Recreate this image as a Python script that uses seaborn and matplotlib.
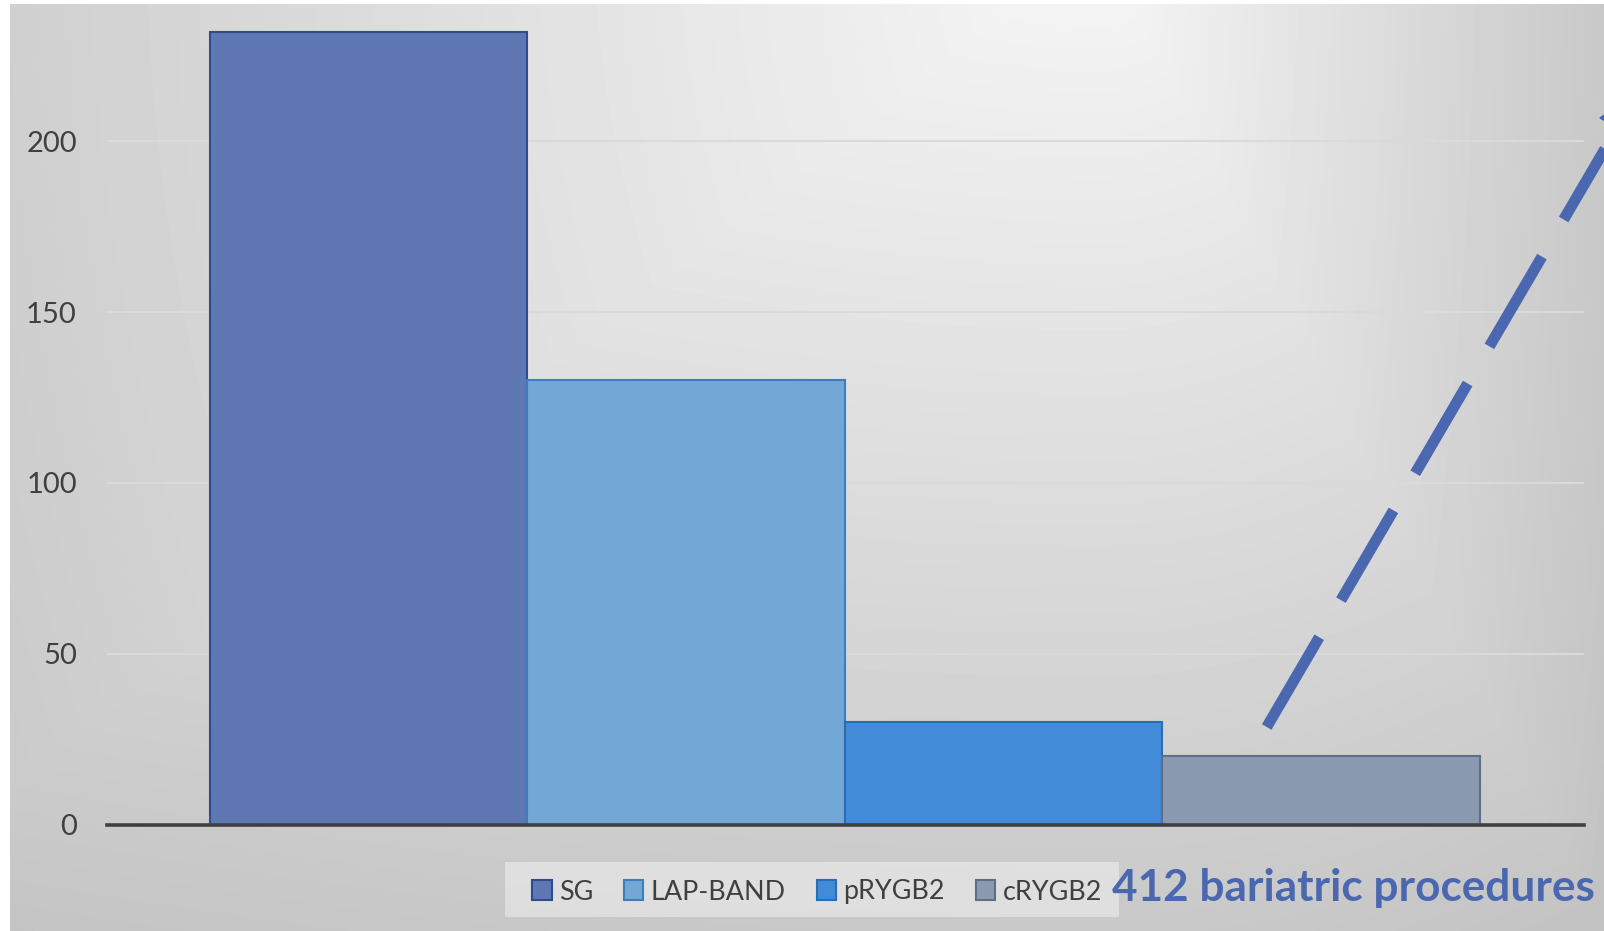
import numpy as np
import pandas as pd
import matplotlib
matplotlib.use("Agg")
import matplotlib.pyplot as plt
import seaborn as sns
from matplotlib.patches import Patch, Polygon, Rectangle
from matplotlib.lines import Line2D

# ---------------- data ----------------
procedures = ["SG", "LAP-BAND", "pRYGB2", "cRYGB2"]
counts = [232, 130, 30, 20]
y_ticks = [0, 50, 100, 150, 200]
callout_text = "412 bariatric procedures"

# ---------------- styles ----------------
fill_colors = ["#5f78b4", "#73a8d6", "#418bd9", "#8a9ab1"]
edge_colors = ["#2f4d8e", "#3d7dbd", "#2c6cb2", "#5e6e88"]
accent = "#4a67b0"
text_gray = "#404040"

W, H, DPI = 1604, 931, 100

sns.set_theme(style="white")
plt.rcParams['font.family'] = ['Lato', 'DejaVu Sans']

fig = plt.figure(figsize=(W / DPI, H / DPI), dpi=DPI)
fig.patch.set_facecolor('white')

# ---------------- background gradient ----------------
x0, y0 = 10, 4
xs = np.arange(x0, W) + 0.5
ys = np.arange(y0, H) + 0.5
X, Y = np.meshgrid(xs, ys)
cx, cy = 1100.0, -60.0
dx = np.where(X < cx, (cx - X) / (cx - x0) * 0.85, (X - cx) / (W - cx))
dy = (Y - cy) / (H - cy)
d = 0.65 * np.maximum(dx, dy) + 0.35 * np.hypot(dx, dy) / 1.2
grad = 0.965 - 0.19 * d
bg_ax = fig.add_axes([x0 / W, 0, 1 - x0 / W, 1 - y0 / H])
bg_ax.imshow(grad, cmap='gray', vmin=0, vmax=1, aspect='auto', interpolation='bilinear')
bg_ax.axis('off')
bg_ax.set_zorder(0)

# ---------------- main axes ----------------
ax_left, ax_right = 107.4, 1583.6
ax_bottom, ax_top = 824.6, 4.0
ax = fig.add_axes([ax_left / W, 1 - ax_bottom / H, (ax_right - ax_left) / W, (ax_bottom - ax_top) / H])
ax.set_zorder(1)
ax.patch.set_alpha(0)

df = pd.DataFrame({"procedure": procedures, "count": counts})
sns.barplot(data=df, x="procedure", y="count", hue="procedure",
            palette=dict(zip(procedures, fill_colors)), width=1.0,
            saturation=1, legend=False, ax=ax, zorder=2)
for patch, ec in zip(ax.patches, edge_colors):
    patch.set_edgecolor(ec)
    patch.set_linewidth(1.5)

px_per_unit = (824.6 - 141.2) / 200
ax.set_ylim(0, (ax_bottom - ax_top) / px_per_unit)
bar_px = (1480.0 - 209.7) / 4
ax.set_xlim(-0.5 - (209.7 - ax_left) / bar_px, 3.5 + (ax_right - 1480.0) / bar_px)

ax.set_yticks(y_ticks)
ax.set_xticks([])
ax.set_xlabel("")
ax.set_ylabel("")
ax.tick_params(axis='y', length=0, pad=22, labelsize=21, labelcolor=text_gray)
ax.yaxis.grid(True, color='#dadada', linewidth=1.5)
ax.xaxis.grid(False)
ax.set_axisbelow(True)
for s in ["top", "left", "right"]:
    ax.spines[s].set_visible(False)
ax.spines["bottom"].set_color(text_gray)
ax.spines["bottom"].set_linewidth(2.6)
ax.spines["bottom"].set_zorder(3)

# ---------------- legend ----------------
fig.add_artist(Rectangle((505 / W, 1 - 917 / H), (1119 - 505) / W, (917 - 862) / H,
                         transform=fig.transFigure, facecolor='white', alpha=0.4,
                         edgecolor='none', zorder=4))
handles = [Patch(facecolor=fc, edgecolor=ec, linewidth=1.5, label=p)
           for p, fc, ec in zip(procedures, fill_colors, edge_colors)]
leg = fig.legend(handles=handles, loc='center', bbox_to_anchor=(817 / W, 1 - 892 / H),
                 ncol=4, frameon=False, fontsize=19.4, handlelength=0.72, handleheight=0.72,
                 handletextpad=0.27, columnspacing=1.15, borderpad=0.3, borderaxespad=0)
leg.set_zorder(5)
for t in leg.get_texts():
    t.set_color(text_gray)

# ---------------- dashed arrow line ----------------
def fpt(x, y):
    return x / W, 1 - y / H

start = np.array([1266.7, 727.0])
u = np.array([0.505, -0.863])
u = u / np.linalg.norm(u)
nrm = np.array([u[1], -u[0]])  # perpendicular (up-left)
P = start + 694 * u
lw_px = 11.0
line = Line2D(*zip(fpt(*start), fpt(*P)), transform=fig.transFigure, color=accent,
              linewidth=lw_px * 72 / DPI, dashes=(104 / lw_px, 43 / lw_px),
              dash_capstyle='butt', solid_capstyle='butt', zorder=5)
fig.add_artist(line)
head = [fpt(*(P + 20 * nrm)), fpt(*(P - 20 * nrm)), fpt(*(P + 40 * u))]
fig.add_artist(Polygon(head, closed=True, transform=fig.transFigure, color=accent, zorder=5))

# ---------------- callout text ----------------
txt = fig.text(1112 / W, 1 - 901 / H, callout_text, fontsize=28, fontweight='bold',
               color=accent, ha='left', va='baseline', zorder=6)
fig.canvas.draw()
w_now = txt.get_window_extent().width
txt.set_fontsize(28 * 482 / w_now)

fig.savefig("out.png", dpi=DPI)
